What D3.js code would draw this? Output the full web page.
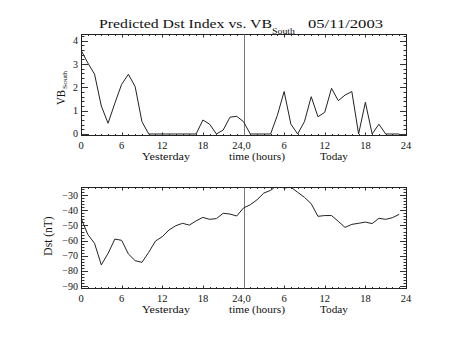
<!DOCTYPE html>
<html><head><meta charset="utf-8">
<script src="https://cdn.jsdelivr.net/npm/d3@7"></script>
<style>body{margin:0;background:#fff}svg{display:block}text{font-family:"Liberation Serif",serif;fill:#111}</style>
</head><body><svg id="c" width="453" height="340"></svg>
<script>
// ---- data ----
const hours = [0,1,2,3,4,5,6,7,8,9,10,11,12,13,14,15,16,17,18,19,20,21,22,23,
               24,25,26,27,28,29,30,31,32,33,34,35,36,37,38,39,40,41,42,43,44,45,46,47];
const vbSouth = [3.6,3.05,2.57,1.2,0.46,1.32,2.13,2.56,2.03,0.53,0,0,0,0,0,0,0,0,0.6,0.42,0,0.17,0.72,0.76,
                 0.53,0,0,0,0,0.8,1.82,0.42,0,0.53,1.6,0.74,0.93,1.96,1.43,1.67,1.82,0,1.36,0,0.42,0,0,0];
const dst = [-45.3,-55.9,-61.8,-76,-68.4,-59,-59.8,-68.8,-73.2,-74.3,-67.7,-60.3,-57.4,-53,-50.2,-48.6,-49.8,-47,-44.7,-46,-45.5,-42,-42.5,-43.8,
             -38.5,-36.4,-33.1,-28.7,-26.9,-23.5,-25.4,-24.8,-28.2,-31.5,-35.7,-44,-43.5,-43.5,-47.3,-51.3,-49.3,-48.6,-47.8,-48.8,-45.3,-46,-44.9,-42.7];
const xMajor = [0,6,12,18,24,30,36,42,48];
const xMajorLabels = ["0","6","12","18","24,0","6","12","18","24"];
const vbTicks = [0,1,2,3,4];
const dstTicks = [-90,-80,-70,-60,-50,-40,-30];
const titleMain = "Predicted Dst Index vs. VB";
const titleSub = "South";
const titleDate = "05/11/2003";
const xNames = ["Yesterday","time (hours)","Today"];

const svg = d3.select("#c");
const X0 = 81, X1 = 406;
const x = d3.scaleLinear().domain([0,48]).range([X0,X1]);

function panel(top, bottom, yDomain, majors, minorStep, labelFmt, data, clipId){
  const y = d3.scaleLinear().domain(yDomain).range([bottom, top]);
  const g = svg.append("g").attr("transform","translate(0.5,0.5)");
  const defs = svg.append("defs");
  defs.append("clipPath").attr("id",clipId).append("rect")
    .attr("x",X0).attr("y",top).attr("width",X1-X0).attr("height",bottom-top);
  // minor y ticks
  const yMin = d3.range(Math.ceil(yDomain[0]/minorStep)*minorStep, yDomain[1]+1e-9, minorStep)
      .filter(v => y(v) >= top-0.01 && y(v) <= bottom+0.01);
  const yt = yMin.map(v => ({v, major: majors.some(m => Math.abs(m-v)<1e-6)}));
  g.selectAll(null).data(yt).join("line")
    .attr("x1",X0).attr("x2",d=>X0+(d.major?6.5:3))
    .attr("y1",d=>Math.round(y(d.v))).attr("y2",d=>Math.round(y(d.v)))
    .attr("stroke","#333").attr("stroke-width",1);
  g.selectAll(null).data(yt).join("line")
    .attr("x1",X1).attr("x2",d=>X1-(d.major?6.5:3))
    .attr("y1",d=>Math.round(y(d.v))).attr("y2",d=>Math.round(y(d.v)))
    .attr("stroke","#333").attr("stroke-width",1);
  // x ticks (every hour minor)
  const xt = d3.range(0,49).map(h => ({h, major: xMajor.includes(h)}));
  g.selectAll(null).data(xt).join("line")
    .attr("x1",d=>Math.round(x(d.h))).attr("x2",d=>Math.round(x(d.h)))
    .attr("y1",bottom).attr("y2",d=>bottom-(d.major?3:1.5))
    .attr("stroke","#333");
  g.selectAll(null).data(xt).join("line")
    .attr("x1",d=>Math.round(x(d.h))).attr("x2",d=>Math.round(x(d.h)))
    .attr("y1",top).attr("y2",d=>top+(d.major?3:1.5))
    .attr("stroke","#333");
  // frame
  g.append("rect").attr("x",X0).attr("y",top).attr("width",X1-X0).attr("height",bottom-top)
    .attr("fill","none").attr("stroke","#222").attr("stroke-width",1);
  // vertical separator at 24h
  g.append("line").attr("x1",Math.round(x(24))).attr("x2",Math.round(x(24)))
    .attr("y1",top).attr("y2",bottom).attr("stroke","#777").attr("stroke-width",1);
  // data line
  const line = d3.line().x((d,i)=>x(hours[i])).y(d=>y(d));
  svg.append("path").datum(data).attr("clip-path",`url(#${clipId})`)
    .attr("d",line).attr("fill","none").attr("stroke","#222").attr("stroke-width",1);
  // y tick labels
  svg.selectAll(null).data(majors).join("text")
    .attr("x",78).attr("y",d=>y(d)+3.5).attr("text-anchor","end")
    .attr("font-size",10).text(labelFmt);
  // x tick labels
  svg.selectAll(null).data(xMajor).join("text")
    .attr("x",(d,i)=> x(d) + (i===4?-2:0)).attr("y",bottom+14).attr("text-anchor","middle")
    .attr("font-size",10.5).text((d,i)=>xMajorLabels[i]);
  // axis names
  const nx = [166,257,334], nw=[48,56,28];
  svg.selectAll(null).data(xNames).join("text")
    .attr("x",(d,i)=>nx[i]-nw[i]/2).attr("y",bottom+25)
    .attr("font-size",11).attr("textLength",(d,i)=>nw[i]).attr("lengthAdjust","spacingAndGlyphs")
    .text(d=>d);
  return y;
}

panel(34,135,[-0.043,4.29],vbTicks,0.2,d=>d3.format("d")(d),vbSouth,"clipA");
panel(187,288,[-91.2,-24.7],dstTicks,2,d=>"\u2212"+Math.abs(d),dst,"clipB");

// title
svg.append("text").attr("x",99).attr("y",28).attr("font-size",12.5)
  .attr("textLength",173).attr("lengthAdjust","spacingAndGlyphs").text(titleMain);
svg.append("text").attr("x",272).attr("y",34).attr("font-size",7.5)
  .attr("textLength",23).attr("lengthAdjust","spacingAndGlyphs").text(titleSub);
svg.append("text").attr("x",308).attr("y",28).attr("font-size",12.5)
  .attr("textLength",75).attr("lengthAdjust","spacingAndGlyphs").text(titleDate);

// y axis titles
const gv = svg.append("g").attr("transform","translate(64.5,105) rotate(-90)");
gv.append("text").attr("x",0).attr("y",0).attr("font-size",11.5)
  .attr("textLength",15).attr("lengthAdjust","spacingAndGlyphs").text("VB");
gv.append("text").attr("x",16).attr("y",2.5).attr("font-size",7)
  .attr("textLength",18).attr("lengthAdjust","spacingAndGlyphs").text("South");
svg.append("text").attr("transform","translate(51.5,236) rotate(-90)")
  .attr("text-anchor","middle").attr("font-size",11.5).text("Dst (nT)");
</script></body></html>
